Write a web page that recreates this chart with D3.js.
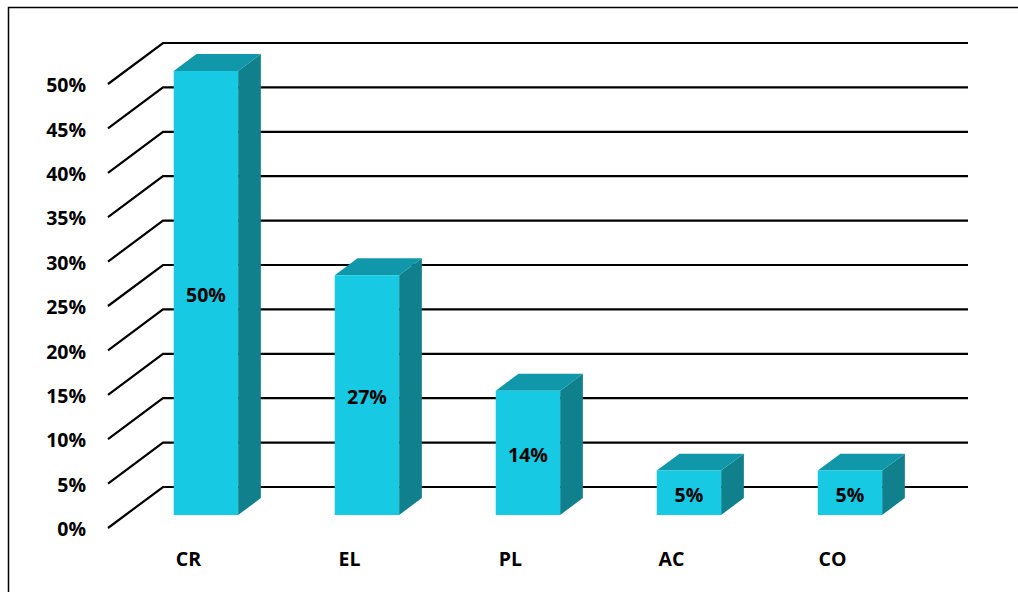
<!DOCTYPE html>
<html>
<head>
<meta charset="utf-8">
<script src="https://cdn.jsdelivr.net/npm/d3@7"></script>
<style>
  html, body { margin: 0; padding: 0; background: #fff; }
  svg { display: block; }
  text { font-family: "Open Sans", Lato, sans-serif; font-weight: 700; fill: #000; }
</style>
</head>
<body>
<svg id="chart" width="1018" height="592"></svg>
<script>
// Share of each category
const categories = ["CR", "EL", "PL", "AC", "CO"];
const values = [50, 27, 14, 5, 5];
const tickValues = [0, 5, 10, 15, 20, 25, 30, 35, 40, 45, 50];
const tickLabels = ["0%", "5%", "10%", "15%", "20%", "25%", "30%", "35%", "40%", "45%", "50%"];

const svg = d3.select("#chart");
const fontSize = 19.5;

// Back wall of the 3D plot area
const backLeft = 163, backRight = 968;
const y = d3.scaleLinear().domain([0, 50]).range([487, 43]);
const x = d3.scaleBand().domain(categories).range([backLeft, backRight])
  .paddingInner(0.6).paddingOuter(0.3);

// Depth offset from back wall (0) to front edge of floor (1)
const depthDX = -55, depthDY = 41;
const proj = (px, py, d) => [px + depthDX * d, py + depthDY * d];

// Bar occupies this slice of depth
const barFront = 0.683, barBack = 0.27;

// Outer frame (left and top edges)
svg.append("path")
  .attr("d", "M8.5,592 L8.5,7.5 L1018,7.5")
  .attr("fill", "none").attr("stroke", "#000").attr("stroke-width", 1.5);

// Gridlines: diagonal floor/wall edge plus horizontal line on the back wall
const grid = svg.append("g").attr("stroke", "#000").attr("stroke-width", 2.2).attr("fill", "none");
tickValues.forEach(v => {
  const f = proj(backLeft, y(v), 1);
  grid.append("path")
    .attr("d", `M${f[0]},${f[1]} L${backLeft},${y(v)} L${backRight},${y(v)}`);
});

// Y axis labels along the front edge
svg.append("g").selectAll("text")
  .data(tickValues)
  .join("text")
  .attr("x", 86)
  .attr("y", v => proj(backLeft, y(v), 1)[1])
  .attr("dy", "0.42em")
  .attr("text-anchor", "end")
  .attr("font-size", fontSize)
  .text((v, i) => tickLabels[i]);

// 3D bars
const colFront = "#17c9e2", colTop = "#1197aa", colSide = "#10808c";
const bars = svg.append("g");
categories.forEach((c, i) => {
  const v = values[i];
  const x0 = x(c), x1 = x(c) + x.bandwidth();
  const yT = y(v), yB = y(0);
  const pt = (px, py, d) => proj(px, py, d).join(",");
  const g = bars.append("g");
  // side face
  g.append("polygon")
    .attr("points", [pt(x1, yT, barFront), pt(x1, yT, barBack), pt(x1, yB, barBack), pt(x1, yB, barFront)].join(" "))
    .attr("fill", colSide);
  // top face
  g.append("polygon")
    .attr("points", [pt(x0, yT, barFront), pt(x1, yT, barFront), pt(x1, yT, barBack), pt(x0, yT, barBack)].join(" "))
    .attr("fill", colTop);
  // front face
  g.append("polygon")
    .attr("points", [pt(x0, yT, barFront), pt(x1, yT, barFront), pt(x1, yB, barFront), pt(x0, yB, barFront)].join(" "))
    .attr("fill", colFront);
  // value label
  const c0 = proj((x0 + x1) / 2, (yT + yB) / 2, barFront);
  g.append("text")
    .attr("x", c0[0]).attr("y", c0[1] + 1.5)
    .attr("dy", "0.4em")
    .attr("text-anchor", "middle")
    .attr("font-size", fontSize)
    .text(v + "%");
});

// Category labels on the front edge of the floor
svg.append("g").selectAll("text")
  .data(categories)
  .join("text")
  .attr("x", c => proj(x(c) + x.bandwidth() / 2, 0, 1)[0])
  .attr("y", 566)
  .attr("text-anchor", "middle")
  .attr("font-size", fontSize)
  .text(c => c);
</script>
</body>
</html>
